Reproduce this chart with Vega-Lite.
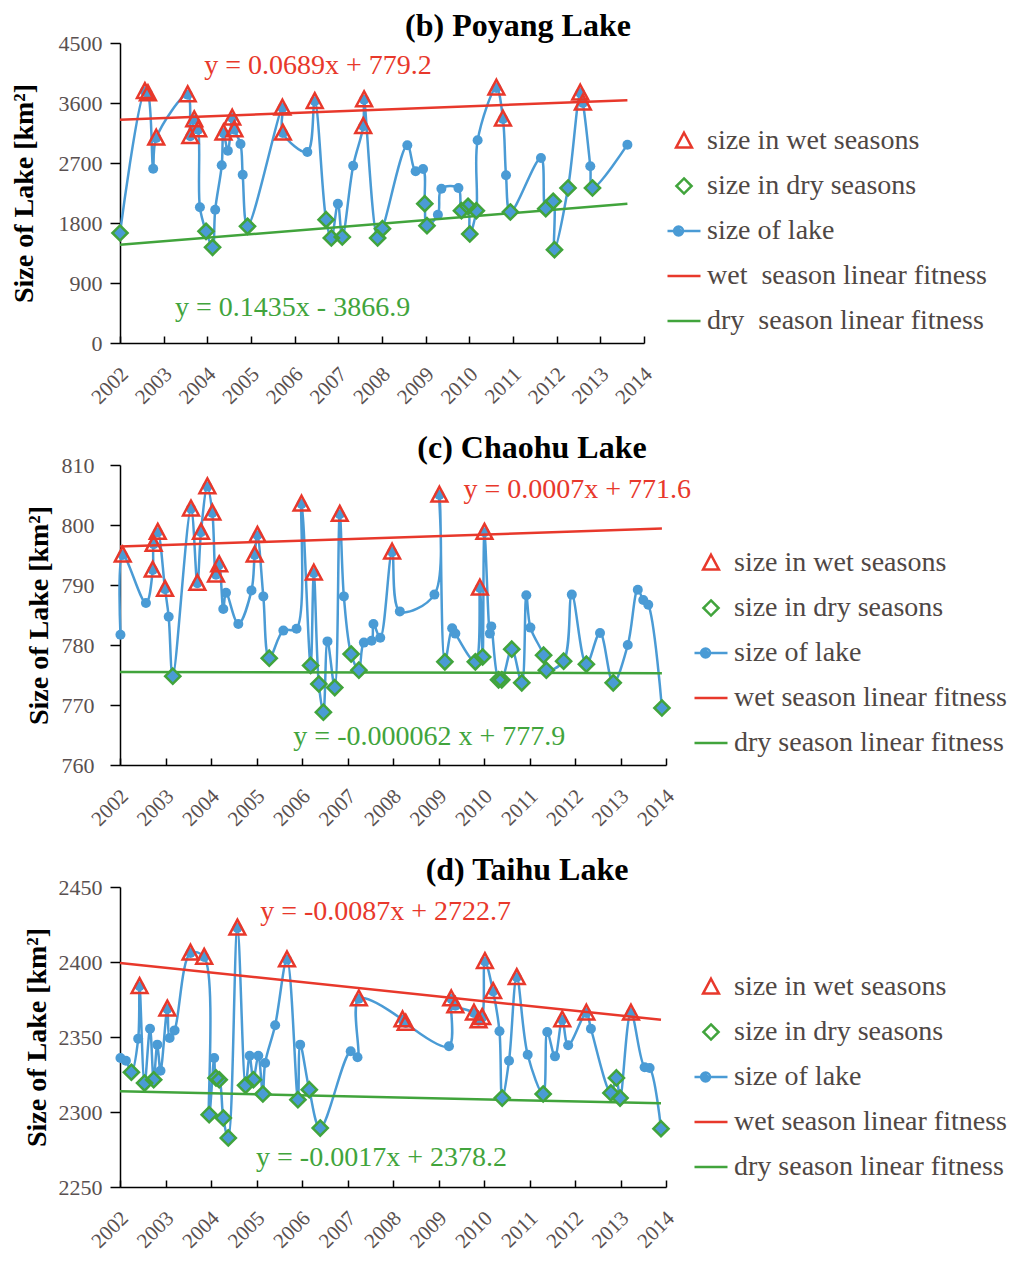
{
"$schema": "https://vega.github.io/schema/vega-lite/v6.json",
"background": "white",
"padding": {"left": 10, "top": 10, "right": 5, "bottom": 5},
"spacing": 24,
"datasets": {
"poyang": [
{"x":2002.00,"v":1650,"t":"dry"},{"x":2002.57,"v":3775,"t":"wet"},{"x":2002.64,"v":3740,"t":"wet"},{"x":2002.76,"v":2615,"t":"n"},{"x":2002.83,"v":3075,"t":"wet"},
{"x":2003.55,"v":3725,"t":"wet"},{"x":2003.61,"v":3100,"t":"wet"},{"x":2003.70,"v":3350,"t":"wet"},{"x":2003.79,"v":3200,"t":"wet"},{"x":2003.83,"v":2035,"t":"n"},
{"x":2003.97,"v":1675,"t":"dry"},{"x":2004.12,"v":1435,"t":"dry"},{"x":2004.18,"v":2000,"t":"n"},{"x":2004.33,"v":2665,"t":"n"},{"x":2004.37,"v":3150,"t":"wet"},
{"x":2004.47,"v":2885,"t":"n"},{"x":2004.57,"v":3375,"t":"wet"},{"x":2004.62,"v":3200,"t":"wet"},{"x":2004.76,"v":2985,"t":"n"},{"x":2004.81,"v":2525,"t":"n"},
{"x":2004.92,"v":1750,"t":"dry"},{"x":2005.72,"v":3525,"t":"wet"},{"x":2005.73,"v":3150,"t":"wet"},{"x":2006.29,"v":2865,"t":"n"},{"x":2006.46,"v":3625,"t":"wet"},
{"x":2006.72,"v":1850,"t":"dry"},{"x":2006.84,"v":1575,"t":"dry"},{"x":2006.99,"v":2090,"t":"n"},{"x":2007.09,"v":1590,"t":"dry"},{"x":2007.34,"v":2660,"t":"n"},
{"x":2007.57,"v":3250,"t":"wet"},{"x":2007.59,"v":3650,"t":"wet"},{"x":2007.90,"v":1575,"t":"dry"},{"x":2008.01,"v":1715,"t":"dry"},{"x":2008.58,"v":2965,"t":"n"},
{"x":2008.77,"v":2575,"t":"n"},{"x":2008.94,"v":2610,"t":"n"},{"x":2008.98,"v":2090,"t":"dry"},{"x":2009.03,"v":1760,"t":"dry"},{"x":2009.28,"v":1925,"t":"n"},
{"x":2009.36,"v":2315,"t":"n"},{"x":2009.75,"v":2325,"t":"n"},{"x":2009.82,"v":1985,"t":"dry"},{"x":2009.97,"v":2050,"t":"dry"},{"x":2010.01,"v":1635,"t":"dry"},
{"x":2010.16,"v":1985,"t":"dry"},{"x":2010.19,"v":3040,"t":"n"},{"x":2010.62,"v":3825,"t":"wet"},{"x":2010.77,"v":3360,"t":"wet"},{"x":2010.84,"v":2515,"t":"n"},
{"x":2010.94,"v":1965,"t":"dry"},{"x":2011.64,"v":2775,"t":"n"},{"x":2011.75,"v":2015,"t":"dry"},{"x":2011.92,"v":2125,"t":"dry"},{"x":2011.95,"v":1400,"t":"dry"},
{"x":2012.26,"v":2325,"t":"dry"},{"x":2012.54,"v":3750,"t":"wet"},{"x":2012.60,"v":3600,"t":"wet"},{"x":2012.77,"v":2650,"t":"n"},{"x":2012.82,"v":2325,"t":"dry"},
{"x":2013.62,"v":2975,"t":"n"}
],
"chaohu": [
{"x":2002.01,"v":781.7,"t":"n"},{"x":2002.06,"v":795.0,"t":"wet"},{"x":2002.57,"v":787.0,"t":"n"},{"x":2002.72,"v":792.5,"t":"wet"},{"x":2002.74,"v":796.8,"t":"wet"},
{"x":2002.83,"v":798.8,"t":"wet"},{"x":2002.99,"v":789.3,"t":"wet"},{"x":2003.07,"v":784.7,"t":"n"},{"x":2003.16,"v":774.8,"t":"dry"},{"x":2003.56,"v":802.7,"t":"wet"},
{"x":2003.70,"v":790.3,"t":"wet"},{"x":2003.78,"v":798.8,"t":"wet"},{"x":2003.92,"v":806.4,"t":"wet"},{"x":2004.03,"v":802.0,"t":"wet"},{"x":2004.11,"v":791.7,"t":"wet"},
{"x":2004.18,"v":793.4,"t":"wet"},{"x":2004.27,"v":786.0,"t":"n"},{"x":2004.33,"v":788.7,"t":"n"},{"x":2004.60,"v":783.5,"t":"n"},{"x":2004.89,"v":789.1,"t":"n"},
{"x":2004.96,"v":795.0,"t":"wet"},{"x":2005.02,"v":798.3,"t":"wet"},{"x":2005.15,"v":788.1,"t":"n"},{"x":2005.28,"v":777.8,"t":"dry"},{"x":2005.59,"v":782.4,"t":"n"},
{"x":2005.88,"v":782.7,"t":"n"},{"x":2005.99,"v":803.5,"t":"wet"},{"x":2006.19,"v":776.6,"t":"dry"},{"x":2006.26,"v":792.0,"t":"wet"},{"x":2006.37,"v":773.5,"t":"dry"},
{"x":2006.47,"v":768.8,"t":"dry"},{"x":2006.56,"v":780.6,"t":"n"},{"x":2006.72,"v":772.9,"t":"dry"},{"x":2006.83,"v":801.8,"t":"wet"},{"x":2006.92,"v":788.1,"t":"n"},
{"x":2007.08,"v":778.5,"t":"dry"},{"x":2007.25,"v":775.8,"t":"dry"},{"x":2007.36,"v":780.4,"t":"n"},{"x":2007.53,"v":780.7,"t":"n"},{"x":2007.57,"v":783.5,"t":"n"},
{"x":2007.72,"v":781.2,"t":"n"},{"x":2007.98,"v":795.5,"t":"wet"},{"x":2008.15,"v":785.6,"t":"n"},{"x":2008.91,"v":788.4,"t":"n"},{"x":2009.02,"v":805.0,"t":"wet"},
{"x":2009.14,"v":777.2,"t":"dry"},{"x":2009.30,"v":782.8,"t":"n"},{"x":2009.37,"v":781.9,"t":"n"},{"x":2009.81,"v":777.2,"t":"dry"},{"x":2009.91,"v":789.5,"t":"wet"},
{"x":2009.97,"v":778.0,"t":"dry"},{"x":2010.01,"v":798.8,"t":"wet"},{"x":2010.13,"v":781.9,"t":"n"},{"x":2010.16,"v":783.1,"t":"n"},{"x":2010.32,"v":774.2,"t":"dry"},
{"x":2010.39,"v":774.2,"t":"dry"},{"x":2010.61,"v":779.3,"t":"dry"},{"x":2010.83,"v":773.7,"t":"dry"},{"x":2010.93,"v":788.3,"t":"n"},{"x":2011.02,"v":782.9,"t":"n"},
{"x":2011.31,"v":778.3,"t":"dry"},{"x":2011.37,"v":775.8,"t":"dry"},{"x":2011.75,"v":777.3,"t":"dry"},{"x":2011.93,"v":788.4,"t":"n"},{"x":2012.25,"v":776.8,"t":"dry"},
{"x":2012.55,"v":782.0,"t":"n"},{"x":2012.84,"v":773.7,"t":"dry"},{"x":2013.16,"v":780.0,"t":"n"},{"x":2013.38,"v":789.2,"t":"n"},{"x":2013.50,"v":787.5,"t":"n"},
{"x":2013.61,"v":786.7,"t":"n"},{"x":2013.91,"v":769.5,"t":"dry"}
],
"taihu": [
{"x":2002.01,"v":2336.0,"t":"n"},{"x":2002.13,"v":2334.2,"t":"n"},{"x":2002.25,"v":2326.5,"t":"dry"},{"x":2002.40,"v":2348.9,"t":"n"},{"x":2002.43,"v":2383.8,"t":"wet"},
{"x":2002.54,"v":2319.3,"t":"dry"},{"x":2002.66,"v":2355.5,"t":"n"},{"x":2002.74,"v":2321.5,"t":"dry"},{"x":2002.82,"v":2344.9,"t":"n"},{"x":2002.89,"v":2327.5,"t":"n"},
{"x":2003.04,"v":2368.7,"t":"wet"},{"x":2003.09,"v":2349.3,"t":"n"},{"x":2003.20,"v":2354.4,"t":"n"},{"x":2003.55,"v":2406.0,"t":"wet"},{"x":2003.85,"v":2403.3,"t":"wet"},
{"x":2003.96,"v":2298.2,"t":"dry"},{"x":2004.07,"v":2336.0,"t":"n"},{"x":2004.11,"v":2322.7,"t":"dry"},{"x":2004.18,"v":2321.5,"t":"dry"},{"x":2004.27,"v":2296.0,"t":"dry"},
{"x":2004.38,"v":2282.7,"t":"dry"},{"x":2004.58,"v":2422.7,"t":"wet"},{"x":2004.76,"v":2317.8,"t":"dry"},{"x":2004.85,"v":2337.5,"t":"n"},{"x":2004.93,"v":2321.5,"t":"dry"},
{"x":2005.04,"v":2337.5,"t":"n"},{"x":2005.14,"v":2312.0,"t":"dry"},{"x":2005.19,"v":2332.7,"t":"n"},{"x":2005.41,"v":2357.8,"t":"n"},{"x":2005.67,"v":2401.5,"t":"wet"},
{"x":2005.91,"v":2308.2,"t":"dry"},{"x":2005.96,"v":2344.9,"t":"n"},{"x":2006.16,"v":2314.9,"t":"dry"},{"x":2006.40,"v":2289.3,"t":"dry"},{"x":2007.07,"v":2340.5,"t":"n"},
{"x":2007.22,"v":2336.5,"t":"n"},{"x":2007.25,"v":2375.5,"t":"wet"},{"x":2008.21,"v":2361.5,"t":"wet"},{"x":2008.28,"v":2359.3,"t":"wet"},{"x":2009.23,"v":2343.8,"t":"n"},
{"x":2009.28,"v":2375.5,"t":"wet"},{"x":2009.37,"v":2370.9,"t":"wet"},{"x":2009.78,"v":2366.0,"t":"wet"},{"x":2009.88,"v":2360.9,"t":"wet"},{"x":2009.96,"v":2363.1,"t":"wet"},
{"x":2010.02,"v":2400.4,"t":"wet"},{"x":2010.20,"v":2380.4,"t":"wet"},{"x":2010.34,"v":2353.8,"t":"n"},{"x":2010.40,"v":2309.3,"t":"dry"},{"x":2010.55,"v":2334.2,"t":"n"},
{"x":2010.72,"v":2389.8,"t":"wet"},{"x":2010.96,"v":2338.2,"t":"n"},{"x":2011.30,"v":2312.0,"t":"dry"},{"x":2011.39,"v":2353.3,"t":"n"},{"x":2011.56,"v":2337.1,"t":"n"},
{"x":2011.72,"v":2361.5,"t":"wet"},{"x":2011.85,"v":2344.5,"t":"n"},{"x":2012.25,"v":2366.0,"t":"wet"},{"x":2012.35,"v":2355.5,"t":"n"},{"x":2012.79,"v":2312.7,"t":"dry"},
{"x":2012.91,"v":2322.7,"t":"dry"},{"x":2012.99,"v":2309.3,"t":"dry"},{"x":2013.23,"v":2366.0,"t":"wet"},{"x":2013.53,"v":2329.8,"t":"n"},{"x":2013.64,"v":2329.3,"t":"n"},
{"x":2013.89,"v":2288.9,"t":"dry"}
]
},
"vconcat": [
{
"width": 524, "height": 300,
"title": {"text": "(b) Poyang Lake", "dx": 136, "offset": -11},
"data": {"name": "poyang"},
"encoding": {
 "x": {"field": "x", "type": "quantitative", "scale": {"domain": [2002, 2014], "nice": false, "zero": false},
   "axis": {"values": [2002,2003,2004,2005,2006,2007,2008,2009,2010,2011,2012,2013,2014], "format": "d", "labelAngle": -45, "tickSize": -7, "labelPadding": 27, "labelOffset": -3, "title": null, "labelFlush": false, "labelOverlap": false, "labelBound": false, "labelFontSize": 21}},
 "y": {"field": "v", "type": "quantitative", "scale": {"domain": [0, 4500], "nice": false, "zero": false},
   "axis": {"values": [0,900,1800,2700,3600,4500], "format": "d", "tickSize": 10, "labelPadding": 8, "title": "Size of Lake [km²]", "titlePadding": 20}}
},
"layer": [
 {"mark": {"type": "line", "interpolate": "catmull-rom", "color": "#4A9BD5", "strokeWidth": 2.5}},
 {"mark": {"type": "point", "shape": "circle", "filled": true, "color": "#4A9BD5", "size": 100, "opacity": 1}},
 {"data": {"values": [{"x": 2002.0, "v": 3350}, {"x": 2013.62, "v": 3642}]}, "mark": {"type": "line", "color": "#E8382B", "strokeWidth": 2.5}},
 {"data": {"values": [{"x": 2002.0, "v": 1475}, {"x": 2013.62, "v": 2087}]}, "mark": {"type": "line", "color": "#41A43C", "strokeWidth": 2.5}},
 {"transform": [{"filter": "datum.t === 'dry'"}], "mark": {"type": "point", "shape": "M0,-0.46L0.46,0L0,0.46L-0.46,0Z", "filled": true, "color": "#4A9BD5", "size": 1089, "opacity": 1}},
 {"transform": [{"filter": "datum.t !== 'n'"}],
  "mark": {"type": "point", "filled": false, "size": 1089, "strokeWidth": 2.5, "opacity": 1},
  "encoding": {
   "shape": {"field": "t", "type": "nominal",
     "scale": {"domain": ["wet","dry","lake","wfit","dfit"], "range": ["M0,-0.5L0.48,0.4L-0.48,0.4Z","M0,-0.46L0.46,0L0,0.46L-0.46,0Z","M-1,0L1,0M-0.06,0A0.27,0.27 0 1 1 -0.6,0A0.27,0.27 0 1 1 -0.06,0ZM-0.21,0A0.12,0.12 0 1 1 -0.45,0A0.12,0.12 0 1 1 -0.21,0Z","M-1,0L1,0","M-1,0L1,0"]},
     "legend": {"orient": "none", "legendX": 546, "legendY": 80, "title": null,
       "labelExpr": "datum.value === 'wet' ? 'size in wet seasons' : datum.value === 'dry' ? 'size in dry seasons' : datum.value === 'lake' ? 'size of lake' : datum.value === 'wfit' ? 'wet\u00a0 season linear fitness' : 'dry\u00a0 season linear fitness'",
       "encode": {"symbols": {"update": {"fill": {"signal": "datum.value === 'lake' ? '#4A9BD5' : 'transparent'"}, "strokeWidth": {"value": 2.5}, "size": {"value": 1089}, "opacity": {"value": 1}}}}}},
   "stroke": {"field": "t", "type": "nominal",
     "scale": {"domain": ["wet","dry","lake","wfit","dfit"], "range": ["#E8382B","#41A43C","#4A9BD5","#E8382B","#41A43C"]},
     "legend": {"orient": "none", "legendX": 546, "legendY": 80, "title": null,
       "labelExpr": "datum.value === 'wet' ? 'size in wet seasons' : datum.value === 'dry' ? 'size in dry seasons' : datum.value === 'lake' ? 'size of lake' : datum.value === 'wfit' ? 'wet\u00a0 season linear fitness' : 'dry\u00a0 season linear fitness'",
       "encode": {"symbols": {"update": {"fill": {"signal": "datum.value === 'lake' ? '#4A9BD5' : 'transparent'"}, "strokeWidth": {"value": 2.5}, "size": {"value": 1089}, "opacity": {"value": 1}}}}}}
  }},
 {"data": {"values": [{"x": 2003.93, "v": 4035, "label": "y = 0.0689x + 779.2"}]}, "mark": {"type": "text", "align": "left", "baseline": "alphabetic", "fontSize": 28, "color": "#E8382B"}, "encoding": {"text": {"field": "label"}}},
 {"data": {"values": [{"x": 2003.26, "v": 400, "label": "y = 0.1435x - 3866.9"}]}, "mark": {"type": "text", "align": "left", "baseline": "alphabetic", "fontSize": 28, "color": "#41A43C"}, "encoding": {"text": {"field": "label"}}}
]
},
{
"width": 546, "height": 300,
"title": {"text": "(c) Chaohu Lake", "dx": 139, "offset": -11},
"data": {"name": "chaohu"},
"encoding": {
 "x": {"field": "x", "type": "quantitative", "scale": {"domain": [2002, 2014], "nice": false, "zero": false},
   "axis": {"values": [2002,2003,2004,2005,2006,2007,2008,2009,2010,2011,2012,2013,2014], "format": "d", "labelAngle": -45, "tickSize": -7, "labelPadding": 27, "labelOffset": -3, "title": null, "labelFlush": false, "labelOverlap": false, "labelBound": false, "labelFontSize": 21}},
 "y": {"field": "v", "type": "quantitative", "scale": {"domain": [760, 810], "nice": false, "zero": false},
   "axis": {"values": [760,770,780,790,800,810], "format": "d", "tickSize": 10, "labelPadding": 16, "title": "Size of Lake [km²]", "titlePadding": 8}}
},
"layer": [
 {"mark": {"type": "line", "interpolate": "catmull-rom", "color": "#4A9BD5", "strokeWidth": 2.5}},
 {"mark": {"type": "point", "shape": "circle", "filled": true, "color": "#4A9BD5", "size": 100, "opacity": 1}},
 {"data": {"values": [{"x": 2002.0, "v": 796.4}, {"x": 2013.91, "v": 799.4}]}, "mark": {"type": "line", "color": "#E8382B", "strokeWidth": 2.5}},
 {"data": {"values": [{"x": 2002.0, "v": 775.5}, {"x": 2013.91, "v": 775.3}]}, "mark": {"type": "line", "color": "#41A43C", "strokeWidth": 2.5}},
 {"transform": [{"filter": "datum.t === 'dry'"}], "mark": {"type": "point", "shape": "M0,-0.46L0.46,0L0,0.46L-0.46,0Z", "filled": true, "color": "#4A9BD5", "size": 1089, "opacity": 1}},
 {"transform": [{"filter": "datum.t !== 'n'"}],
  "mark": {"type": "point", "filled": false, "size": 1089, "strokeWidth": 2.5, "opacity": 1},
  "encoding": {
   "shape": {"field": "t", "type": "nominal",
     "scale": {"domain": ["wet","dry","lake","wfit","dfit"], "range": ["M0,-0.5L0.48,0.4L-0.48,0.4Z","M0,-0.46L0.46,0L0,0.46L-0.46,0Z","M-1,0L1,0M-0.06,0A0.27,0.27 0 1 1 -0.6,0A0.27,0.27 0 1 1 -0.06,0ZM-0.21,0A0.12,0.12 0 1 1 -0.45,0A0.12,0.12 0 1 1 -0.21,0Z","M-1,0L1,0","M-1,0L1,0"]},
     "legend": {"orient": "none", "legendX": 573, "legendY": 80, "title": null,
       "labelExpr": "datum.value === 'wet' ? 'size in wet seasons' : datum.value === 'dry' ? 'size in dry seasons' : datum.value === 'lake' ? 'size of lake' : datum.value === 'wfit' ? 'wet season linear fitness' : 'dry season linear fitness'",
       "encode": {"symbols": {"update": {"fill": {"signal": "datum.value === 'lake' ? '#4A9BD5' : 'transparent'"}, "strokeWidth": {"value": 2.5}, "size": {"value": 1089}, "opacity": {"value": 1}}}}}},
   "stroke": {"field": "t", "type": "nominal",
     "scale": {"domain": ["wet","dry","lake","wfit","dfit"], "range": ["#E8382B","#41A43C","#4A9BD5","#E8382B","#41A43C"]},
     "legend": {"orient": "none", "legendX": 573, "legendY": 80, "title": null,
       "labelExpr": "datum.value === 'wet' ? 'size in wet seasons' : datum.value === 'dry' ? 'size in dry seasons' : datum.value === 'lake' ? 'size of lake' : datum.value === 'wfit' ? 'wet season linear fitness' : 'dry season linear fitness'",
       "encode": {"symbols": {"update": {"fill": {"signal": "datum.value === 'lake' ? '#4A9BD5' : 'transparent'"}, "strokeWidth": {"value": 2.5}, "size": {"value": 1089}, "opacity": {"value": 1}}}}}}
  }},
 {"data": {"values": [{"x": 2009.55, "v": 804.5, "label": "y = 0.0007x + 771.6"}]}, "mark": {"type": "text", "align": "left", "baseline": "alphabetic", "fontSize": 28, "color": "#E8382B"}, "encoding": {"text": {"field": "label"}}},
 {"data": {"values": [{"x": 2005.81, "v": 763.3, "label": "y = -0.000062 x + 777.9"}]}, "mark": {"type": "text", "align": "left", "baseline": "alphabetic", "fontSize": 28, "color": "#41A43C"}, "encoding": {"text": {"field": "label"}}}
]
},
{
"width": 546, "height": 300,
"title": {"text": "(d) Taihu Lake", "dx": 134, "offset": -11},
"data": {"name": "taihu"},
"encoding": {
 "x": {"field": "x", "type": "quantitative", "scale": {"domain": [2002, 2014], "nice": false, "zero": false},
   "axis": {"values": [2002,2003,2004,2005,2006,2007,2008,2009,2010,2011,2012,2013,2014], "format": "d", "labelAngle": -45, "tickSize": -7, "labelPadding": 27, "labelOffset": -3, "title": null, "labelFlush": false, "labelOverlap": false, "labelBound": false, "labelFontSize": 21}},
 "y": {"field": "v", "type": "quantitative", "scale": {"domain": [2250, 2450], "nice": false, "zero": false},
   "axis": {"values": [2250,2300,2350,2400,2450], "format": "d", "tickSize": 10, "labelPadding": 8, "title": "Size of Lake [km²]", "titlePadding": 7}}
},
"layer": [
 {"mark": {"type": "line", "interpolate": "catmull-rom", "color": "#4A9BD5", "strokeWidth": 2.5}},
 {"mark": {"type": "point", "shape": "circle", "filled": true, "color": "#4A9BD5", "size": 100, "opacity": 1}},
 {"data": {"values": [{"x": 2002.0, "v": 2399.3}, {"x": 2013.89, "v": 2361.5}]}, "mark": {"type": "line", "color": "#E8382B", "strokeWidth": 2.5}},
 {"data": {"values": [{"x": 2002.0, "v": 2313.8}, {"x": 2013.89, "v": 2305.8}]}, "mark": {"type": "line", "color": "#41A43C", "strokeWidth": 2.5}},
 {"transform": [{"filter": "datum.t === 'dry'"}], "mark": {"type": "point", "shape": "M0,-0.46L0.46,0L0,0.46L-0.46,0Z", "filled": true, "color": "#4A9BD5", "size": 1089, "opacity": 1}},
 {"transform": [{"filter": "datum.t !== 'n'"}],
  "mark": {"type": "point", "filled": false, "size": 1089, "strokeWidth": 2.5, "opacity": 1},
  "encoding": {
   "shape": {"field": "t", "type": "nominal",
     "scale": {"domain": ["wet","dry","lake","wfit","dfit"], "range": ["M0,-0.5L0.48,0.4L-0.48,0.4Z","M0,-0.46L0.46,0L0,0.46L-0.46,0Z","M-1,0L1,0M-0.06,0A0.27,0.27 0 1 1 -0.6,0A0.27,0.27 0 1 1 -0.06,0ZM-0.21,0A0.12,0.12 0 1 1 -0.45,0A0.12,0.12 0 1 1 -0.21,0Z","M-1,0L1,0","M-1,0L1,0"]},
     "legend": {"orient": "none", "legendX": 573, "legendY": 82, "title": null,
       "labelExpr": "datum.value === 'wet' ? 'size in wet seasons' : datum.value === 'dry' ? 'size in dry seasons' : datum.value === 'lake' ? 'size of lake' : datum.value === 'wfit' ? 'wet season linear fitness' : 'dry season linear fitness'",
       "encode": {"symbols": {"update": {"fill": {"signal": "datum.value === 'lake' ? '#4A9BD5' : 'transparent'"}, "strokeWidth": {"value": 2.5}, "size": {"value": 1089}, "opacity": {"value": 1}}}}}},
   "stroke": {"field": "t", "type": "nominal",
     "scale": {"domain": ["wet","dry","lake","wfit","dfit"], "range": ["#E8382B","#41A43C","#4A9BD5","#E8382B","#41A43C"]},
     "legend": {"orient": "none", "legendX": 573, "legendY": 82, "title": null,
       "labelExpr": "datum.value === 'wet' ? 'size in wet seasons' : datum.value === 'dry' ? 'size in dry seasons' : datum.value === 'lake' ? 'size of lake' : datum.value === 'wfit' ? 'wet season linear fitness' : 'dry season linear fitness'",
       "encode": {"symbols": {"update": {"fill": {"signal": "datum.value === 'lake' ? '#4A9BD5' : 'transparent'"}, "strokeWidth": {"value": 2.5}, "size": {"value": 1089}, "opacity": {"value": 1}}}}}}
  }},
 {"data": {"values": [{"x": 2005.08, "v": 2428.2, "label": "y = -0.0087x + 2722.7"}]}, "mark": {"type": "text", "align": "left", "baseline": "alphabetic", "fontSize": 28, "color": "#E8382B"}, "encoding": {"text": {"field": "label"}}},
 {"data": {"values": [{"x": 2004.99, "v": 2263.8, "label": "y = -0.0017x + 2378.2"}]}, "mark": {"type": "text", "align": "left", "baseline": "alphabetic", "fontSize": 28, "color": "#41A43C"}, "encoding": {"text": {"field": "label"}}}
]
}
],
"resolve": {
 "scale": {"x": "independent", "y": "independent", "shape": "independent", "stroke": "independent"},
 "legend": {"shape": "independent", "stroke": "independent"}
},
"config": {
 "view": {"stroke": null},
 "font": "Liberation Serif",
 "axis": {"grid": false, "domainColor": "black", "tickColor": "black", "domainWidth": 1.5, "tickWidth": 1.5,
   "labelFont": "Liberation Serif", "labelColor": "#595050", "labelFontSize": 22,
   "titleFont": "Liberation Serif", "titleFontSize": 28, "titleFontWeight": "bold", "titleColor": "black"},
 "title": {"font": "Liberation Serif", "fontSize": 32, "fontWeight": "bold", "color": "black", "anchor": "middle"},
 "legend": {"labelFont": "Liberation Serif", "labelFontSize": 28, "labelColor": "#4f4744", "labelLimit": 600,
   "symbolSize": 1089, "symbolStrokeWidth": 2.5, "labelOffset": 5, "rowPadding": 13, "padding": 0},
 "text": {"font": "Liberation Serif"}
}
}
